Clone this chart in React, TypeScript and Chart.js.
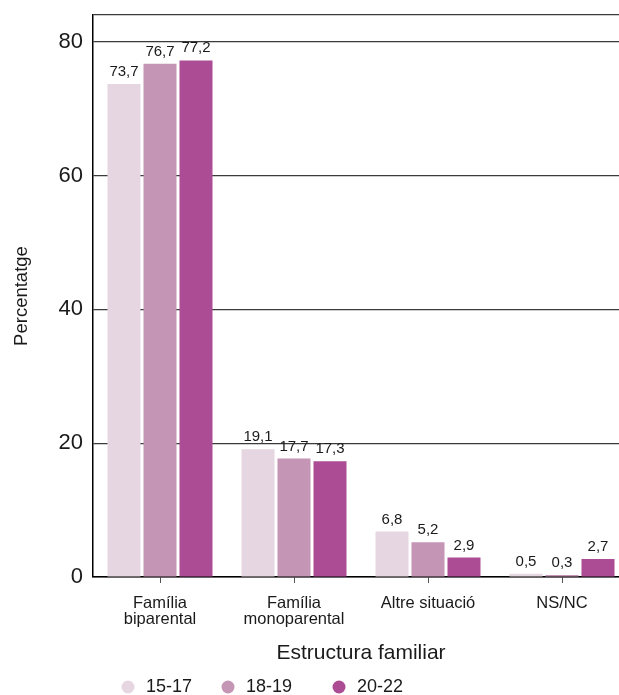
import React, { useEffect, useRef } from 'react';
import { Chart, registerables } from 'chart.js';

Chart.register(...registerables);

const categories: (string | string[])[] = [
  ['Família', 'biparental'],
  ['Família', 'monoparental'],
  'Altre situació',
  'NS/NC',
];
const seriesLabels = ['15-17', '18-19', '20-22'];
const values1517 = [73.7, 19.1, 6.8, 0.5];
const values1819 = [76.7, 17.7, 5.2, 0.3];
const values2022 = [77.2, 17.3, 2.9, 2.7];
const yTicks = [0, 20, 40, 60, 80];
const yMax = 84;
const colors = ['#E5D6E1', '#C595B6', '#AC4C94'];

const FONT = '"Liberation Sans", Arial, Helvetica, sans-serif';
const TEXT = '#1a1a1a';

const fmt = (v: number) => v.toFixed(1).replace('.', ',');

const valueLabels = {
  id: 'valueLabels',
  afterDatasetsDraw(chart: any) {
    const ctx = chart.ctx;
    ctx.save();
    ctx.font = `15px ${FONT}`;
    ctx.fillStyle = TEXT;
    ctx.textAlign = 'center';
    ctx.textBaseline = 'alphabetic';
    chart.data.datasets.forEach((ds: any, i: number) => {
      const meta = chart.getDatasetMeta(i);
      meta.data.forEach((el: any, j: number) => {
        ctx.fillText(fmt(ds.data[j]), el.x, el.y - 8);
      });
    });
    ctx.restore();
  },
};

const bottomLegend = {
  id: 'bottomLegend',
  afterDraw(chart: any) {
    const { ctx, chartArea } = chart;
    const y = chart.height - 8;
    const offsets = [35, 135, 246];
    ctx.save();
    ctx.font = `18px ${FONT}`;
    ctx.textAlign = 'left';
    ctx.textBaseline = 'middle';
    chart.data.datasets.forEach((ds: any, i: number) => {
      const cx = chartArea.left + offsets[i];
      ctx.beginPath();
      ctx.arc(cx, y, 6.5, 0, Math.PI * 2);
      ctx.fillStyle = ds.backgroundColor;
      ctx.fill();
      ctx.fillStyle = TEXT;
      ctx.fillText(ds.label, cx + 18, y);
    });
    ctx.restore();
  },
};

export default function App() {
  const ref = useRef<HTMLCanvasElement>(null);
  useEffect(() => {
    const seriesData = [values1517, values1819, values2022];
    const chart = new Chart(ref.current as HTMLCanvasElement, {
      type: 'bar',
      data: {
        labels: categories as any,
        datasets: seriesLabels.map((label, i) => ({
          label,
          data: seriesData[i],
          backgroundColor: colors[i],
          borderWidth: 0,
          categoryPercentage: 0.806,
          barPercentage: 0.917,
        })),
      },
      options: {
        responsive: false,
        animation: false,
        devicePixelRatio: 1,
        layout: { padding: { top: 15, right: 0, bottom: 29, left: 0 } },
        plugins: {
          legend: { display: false },
          tooltip: { enabled: false },
        },
        scales: {
          x: {
            offset: true,
            grid: {
              display: true,
              drawOnChartArea: false,
              drawTicks: true,
              tickLength: 6,
              tickColor: '#555',
              offset: false,
              lineWidth: 1,
            },
            border: { display: true, color: '#000', width: 1.5 },
            ticks: {
              color: TEXT,
              font: { family: FONT, size: 16.5, lineHeight: 1 },
              padding: 12,
              maxRotation: 0,
              autoSkip: false,
            },
            title: {
              display: true,
              text: 'Estructura familiar',
              color: TEXT,
              font: { family: FONT, size: 21 },
              padding: { top: 0, bottom: 0 },
            },
            afterFit: (s: any) => {
              s.height = 89;
              s.paddingLeft = 0;
              s.paddingRight = 0;
            },
          },
          y: {
            min: 0,
            max: yMax,
            afterBuildTicks: (s: any) => {
              s.ticks = [...yTicks, yMax].map((v) => ({ value: v }));
            },
            ticks: {
              color: TEXT,
              font: { family: FONT, size: 22 },
              padding: 10,
              callback: (v: any) => (yTicks.includes(Number(v)) ? String(v) : ''),
            },
            grid: { color: '#3a3a3a', lineWidth: 1.2, drawTicks: false },
            border: { display: true, color: '#000', width: 1.5 },
            title: {
              display: true,
              text: 'Percentatge',
              color: TEXT,
              font: { family: FONT, size: 18.5 },
              padding: { top: 11, bottom: 0 },
            },
            afterFit: (s: any) => {
              s.width = 93;
              s.paddingTop = 0;
              s.paddingBottom = 0;
            },
          },
        },
      },
      plugins: [valueLabels, bottomLegend],
    });
    return () => chart.destroy();
  }, []);

  return (
    <div
      style={{
        position: 'absolute',
        left: 0,
        top: 0,
        width: 619,
        height: 695,
        overflow: 'hidden',
        background: '#fff',
      }}
    >
      <canvas ref={ref} width={629} height={695} style={{ display: 'block' }} />
    </div>
  );
}
